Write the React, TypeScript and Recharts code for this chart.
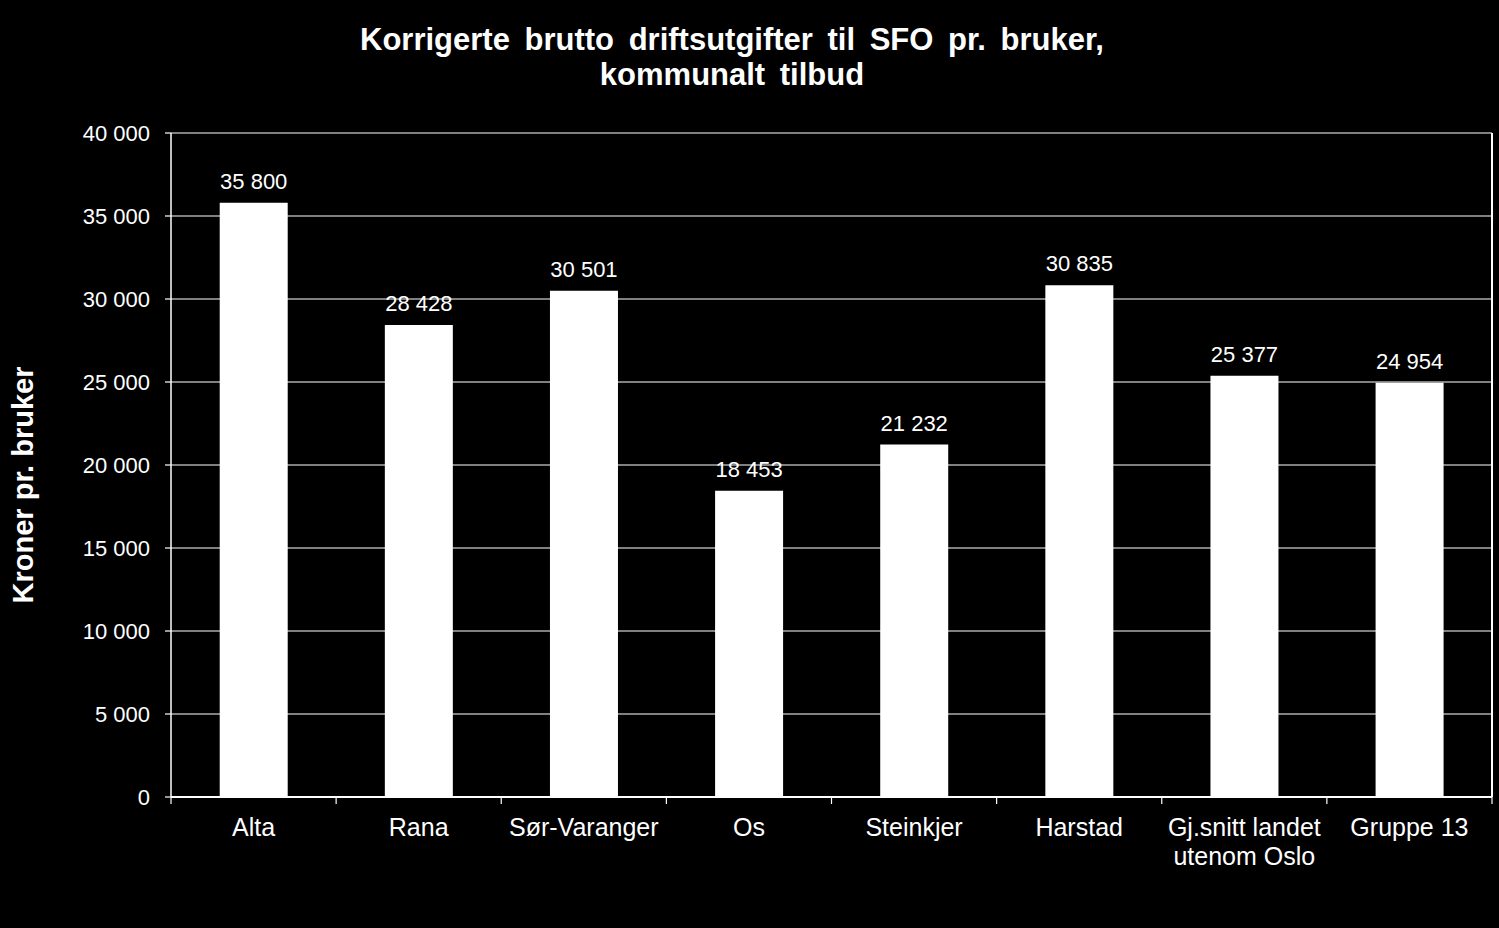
import React from 'react';
import {
  BarChart,
  Bar,
  XAxis,
  YAxis,
  CartesianGrid,
  LabelList,
} from 'recharts';

// Kommuner / grupper langs x-aksen
const kommuner = [
  'Alta',
  'Rana',
  'Sør-Varanger',
  'Os',
  'Steinkjer',
  'Harstad',
  'Gj.snitt landet\nutenom Oslo',
  'Gruppe 13',
];

// Kroner pr. bruker
const utgifter = [35800, 28428, 30501, 18453, 21232, 30835, 25377, 24954];

const yTicks = [0, 5000, 10000, 15000, 20000, 25000, 30000, 35000, 40000];

const chartData = kommuner.map((navn, i) => ({ navn, verdi: utgifter[i] }));

const font = '"Liberation Sans", Arial, sans-serif';

const fmt = (v: number) => String(v).replace(/\B(?=(\d{3})+(?!\d))/g, ' ');

// Kategorietikett + tick-strek på grensen mellom kategoriene (som i Excel)
const CategoryTick = (props: any) => {
  const { x, y, payload, index, width } = props;
  const lines = String(payload.value).split('\n');
  const bw = width / kommuner.length;
  const left = x - bw / 2;
  const right = x + bw / 2;
  return (
    <g>
      <line x1={left} y1={y} x2={left} y2={y + 7} stroke="#fff" strokeWidth={1.2} />
      {index === kommuner.length - 1 && (
        <line x1={right} y1={y} x2={right} y2={y + 7} stroke="#fff" strokeWidth={1.2} />
      )}
      <text x={x} y={y} textAnchor="middle" fill="#fff" fontSize={25} fontFamily={font}>
        {lines.map((l, i) => (
          <tspan key={i} x={x} dy={i === 0 ? 39 : 29}>
            {l}
          </tspan>
        ))}
      </text>
    </g>
  );
};

export default function App() {
  return (
    <div
      style={{
        position: 'fixed',
        left: 0,
        top: 0,
        width: 1499,
        height: 928,
        background: '#000',
        fontFamily: font,
      }}
    >
      <div
        style={{
          position: 'absolute',
          top: 22,
          left: 0,
          width: 1464,
          textAlign: 'center',
          color: '#fff',
          fontWeight: 700,
          fontSize: 31,
          lineHeight: '35px',
          wordSpacing: 6,
        }}
      >
        Korrigerte brutto driftsutgifter til SFO pr. bruker,
        <br />
        kommunalt tilbud
      </div>
      <BarChart
        width={1499}
        height={928}
        data={chartData}
        margin={{ top: 133, right: 6, left: 0, bottom: 0 }}
        barCategoryGap="29.5%"
      >
        <CartesianGrid vertical={false} stroke="#fff" strokeWidth={1.2} />
        <XAxis
          dataKey="navn"
          interval={0}
          tick={<CategoryTick />}
          tickLine={false}
          tickSize={0}
          tickMargin={0}
          axisLine={{ stroke: '#fff', strokeWidth: 2 }}
          height={131}
        />
        <YAxis
          domain={[0, 40000]}
          ticks={yTicks}
          interval={0}
          tickFormatter={fmt}
          tick={{ fill: '#fff', fontSize: 22, fontFamily: font }}
          tickLine={{ stroke: '#fff', strokeWidth: 1.2 }}
          tickSize={6}
          tickMargin={15}
          axisLine={{ stroke: '#fff', strokeWidth: 1.5 }}
          width={171}
          label={{
            value: 'Kroner pr. bruker',
            angle: -90,
            position: 'insideLeft',
            dx: 18,
            dy: 20,
            style: { textAnchor: 'middle', fontWeight: 700, fontSize: 29, fill: '#fff', fontFamily: font },
          }}
        />
        <YAxis
          yAxisId="right"
          orientation="right"
          domain={[0, 40000]}
          tick={false}
          tickLine={false}
          axisLine={{ stroke: '#fff', strokeWidth: 2 }}
          width={1}
        />
        <Bar dataKey="verdi" fill="#fff" isAnimationActive={false}>
          <LabelList
            dataKey="verdi"
            position="top"
            offset={14}
            formatter={(v: any) => fmt(Number(v))}
            style={{ fill: '#fff', fontSize: 22, fontFamily: font }}
          />
        </Bar>
      </BarChart>
    </div>
  );
}
